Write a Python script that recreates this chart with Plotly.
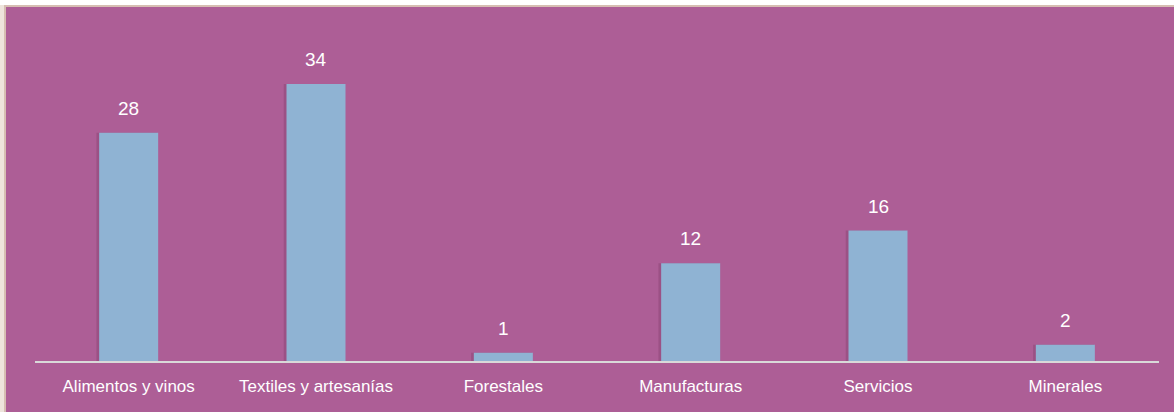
import plotly.graph_objects as go

categories = ["Alimentos y vinos", "Textiles y artesanías", "Forestales",
              "Manufacturas", "Servicios", "Minerales"]
values = [28, 34, 1, 12, 16, 2]

W, H = 1174, 412
ML, MR, MT, MB = 35, 15, 20, 51
PURPLE = "rgb(173,94,150)"
BAR = "rgb(143,179,211)"
FONT = "Liberation Sans, Arial, sans-serif"

fig = go.Figure()
# soft shadow behind bars
fig.add_trace(go.Bar(x=categories, y=values, width=0.325, offset=-0.172,
                     marker=dict(color="rgba(90,35,75,0.22)", line_width=0),
                     hoverinfo="skip", showlegend=False))
fig.add_trace(go.Bar(x=categories, y=values, width=0.315, offset=-0.1575,
                     marker=dict(color=BAR, line_width=0), showlegend=False))

for c, v in zip(categories, values):
    fig.add_annotation(x=c, y=v, text=str(v), showarrow=False, yanchor="bottom",
                       yshift=12, font=dict(family=FONT, size=19, color="white"))

ph = H - MT - MB
pw = W - ML - MR
top = 1 + MT / ph
left = -ML / pw
right = 1 + MR / pw
bottom = -MB / ph
shapes = [
    dict(type="rect", xref="paper", yref="paper", x0=left, x1=right,
         y0=top - 5 / ph, y1=top + 0.01, fillcolor="white", line_width=0, layer="above"),
    dict(type="rect", xref="paper", yref="paper", x0=left, x1=right,
         y0=top - 7 / ph, y1=top - 5 / ph, fillcolor="rgb(214,190,178)", line_width=0, layer="above"),
    dict(type="rect", xref="paper", yref="paper", x0=left - 0.01, x1=left + 4 / pw,
         y0=bottom - 0.01, y1=top - 5 / ph, fillcolor="rgb(238,228,220)", line_width=0, layer="above"),
    dict(type="rect", xref="paper", yref="paper", x0=left + 4 / pw, x1=left + 6 / pw,
         y0=bottom - 0.01, y1=top - 5 / ph, fillcolor="rgb(214,190,178)", line_width=0, layer="above"),
]

fig.update_layout(
    width=W, height=H,
    margin=dict(l=ML, r=MR, t=MT, b=MB),
    paper_bgcolor=PURPLE, plot_bgcolor=PURPLE,
    barmode="overlay",
    shapes=shapes,
    font=dict(family=FONT, size=17, color="white"),
    xaxis=dict(showline=True, linecolor="rgb(217,217,217)", linewidth=2,
               showgrid=False, ticks="", tickfont=dict(family=FONT, size=17, color="white"),
               ticklabelstandoff=9),
    yaxis=dict(visible=False, range=[0, ph / 8.15], showgrid=False, zeroline=False),
)

fig.write_html("out.html")
